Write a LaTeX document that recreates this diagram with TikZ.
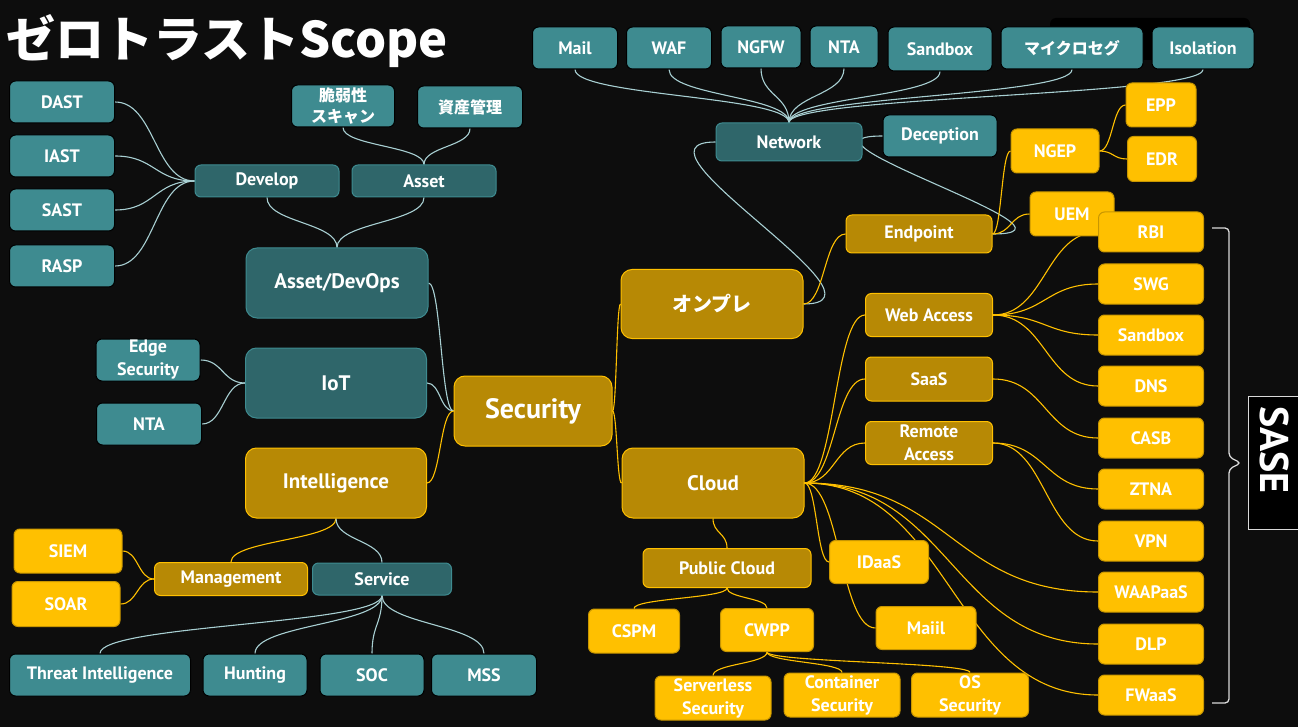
\documentclass[tikz,border=0pt]{standalone}
\usepackage{fontspec}
\setmainfont{PT Sans}
\newfontfamily\jp{Noto Sans CJK JP}
\usetikzlibrary{calc}
\definecolor{bgc}{HTML}{0D0D0D}
\definecolor{tealL}{HTML}{3E8B90}
\definecolor{tealD}{HTML}{2F666A}
\definecolor{goldD}{HTML}{B78905}
\definecolor{gold}{HTML}{FFC000}
\definecolor{goldB}{HTML}{C89600}
\definecolor{tlc}{HTML}{A8CFD2}
\definecolor{brc}{HTML}{D9D9D9}
\pgfdeclarelayer{back}
\pgfdeclarelayer{edges}
\pgfsetlayers{back,edges,main}
\tikzset{
  box/.style={rounded corners=6pt, inner sep=0pt, align=center, text=white,
    font=\bfseries\fontsize{18}{23}\selectfont, line width=1pt},
  tl/.style={box, fill=tealL, draw=black},
  td/.style={box, fill=tealD, draw=tealL},
  gd/.style={box, fill=goldD, draw=gold},
  yl/.style={box, fill=gold, draw=goldB},
  big/.style={rounded corners=11pt, font=\bfseries\fontsize{21}{25}\selectfont},
  jpf/.style={font=\jp\bfseries\fontsize{16}{21}\selectfont},
  sz/.style 2 args={minimum width=#1pt, minimum height=#2pt},
  tline/.style={draw=tlc, line width=1.1pt},
  yline/.style={draw=gold, line width=1.1pt},
  H/.style={to path={let \p1=(\tikztostart), \p2=(\tikztotarget) in
     .. controls ({(\x1+\x2)/2},\y1) and ({(\x1+\x2)/2},\y2) .. (\tikztotarget)}},
  V/.style={to path={let \p1=(\tikztostart), \p2=(\tikztotarget) in
     .. controls (\x1,{(\y1+\y2)/2}) and (\x2,{(\y1+\y2)/2}) .. (\tikztotarget)}},
}
\begin{document}
\begin{tikzpicture}[x=1pt,y=-1pt]
\useasboundingbox (0,0) rectangle (1298,727);
\begin{pgfonlayer}{back}
\fill[bgc] (0,0) rectangle (1298,727);
\end{pgfonlayer}

% title
\node[anchor=west, text=white, inner sep=0pt, font=\jp\bfseries\fontsize{49}{58}\selectfont] (title) at (6,41) {ゼロトラストScope};

% black shape behind top-right
\fill[black, rounded corners=6pt] (1050,18) rectangle (1250,60);

% ---- left: Asset/DevOps
\node[tl, sz={105}{42}] (dast) at (62,102) {DAST};
\node[tl, sz={105}{42}] (iast) at (62,156) {IAST};
\node[tl, sz={105}{42}] (sast) at (62,210) {SAST};
\node[tl, sz={105}{42}] (rasp) at (62,266) {RASP};
\node[tl, jpf, sz={103}{42}] (vuln) at (343,106) {脆弱性\\スキャン};
\node[tl, jpf, sz={105}{42}] (asm) at (470,107) {資産管理};
\node[td, sz={144}{32}] (develop) at (267,181) {Develop};
\node[td, sz={144}{32}] (asset) at (424,181) {Asset};
\node[td, big, sz={182}{70}] (adops) at (337,283) {Asset/DevOps};

% ---- IoT
\node[tl, sz={104}{42}] (edge) at (148,360) {Edge\\Security};
\node[tl, sz={105}{42}] (nta2) at (149,424) {NTA};
\node[td, big, sz={181}{70}] (iot) at (336,383) {IoT};

% ---- Intelligence
\node[gd, big, sz={181}{70}] (intel) at (336,483) {Intelligence};
\node[yl, sz={108}{44}] (siem) at (68,551) {SIEM};
\node[yl, sz={108}{45}] (soar) at (66,604) {SOAR};
\node[gd, sz={153}{33}] (mgmt) at (231,579) {Management};
\node[td, sz={139}{32}] (service) at (382,579) {Service};
\node[tl, sz={181}{42}] (ti) at (100,675) {Threat Intelligence};
\node[tl, sz={104}{42}] (hunt) at (255,675) {Hunting};
\node[tl, sz={104}{42}] (soc) at (372,675) {SOC};
\node[tl, sz={105}{42}] (mss) at (484,675) {MSS};

% ---- Security
\node[gd, rounded corners=11pt, font=\bfseries\fontsize{28}{32}\selectfont, sz={158}{70}] (security) at (533,411) {Security};
\node[gd, big, font=\jp\bfseries\fontsize{20}{24}\selectfont, sz={182}{69}] (onp) at (712,304) {オンプレ};
\node[gd, big, sz={182}{70}] (cloud) at (713,483) {Cloud};

% ---- Network
\node[tl, sz={85}{42}] (mail) at (575,48) {Mail};
\node[tl, sz={85}{42}] (waf) at (669,48) {WAF};
\node[tl, sz={80}{42}] (ngfw) at (761,47) {NGFW};
\node[tl, sz={68}{42}] (nta1) at (844,47) {NTA};
\node[tl, sz={104}{44}] (sbn) at (940,49) {Sandbox};
\node[tl, jpf, sz={142}{42}] (micro) at (1072,48) {マイクロセグ};
\node[tl, sz={102}{42}] (iso) at (1203,48) {Isolation};
\node[td, sz={146}{38}] (network) at (789,142) {Network};
\node[tl, sz={114}{42}] (decep) at (940,136) {Deception};

% ---- Endpoint
\node[gd, sz={146}{38}] (endpoint) at (919,234) {Endpoint};
\node[yl, sz={88}{44}] (ngep) at (1055,151) {NGEP};
\node[yl, sz={70}{44}] (epp) at (1161,105) {EPP};
\node[yl, sz={69}{45}] (edr) at (1162,159) {EDR};
\node[yl, sz={84}{44}] (uem) at (1072,214) {UEM};

% ---- right column
\node[yl, sz={105}{40}] (rbi) at (1151,232) {RBI};
\node[yl, sz={105}{40}] (swg) at (1151,284) {SWG};
\node[yl, sz={105}{40}] (sbs) at (1151,335) {Sandbox};
\node[yl, sz={105}{40}] (dns) at (1151,386) {DNS};
\node[yl, sz={105}{40}] (casb) at (1151,438) {CASB};
\node[yl, sz={105}{40}] (ztna) at (1151,489) {ZTNA};
\node[yl, sz={105}{40}] (vpn) at (1151,541) {VPN};
\node[yl, sz={105}{40}] (waap) at (1151,592) {WAAPaaS};
\node[yl, sz={105}{40}] (dlp) at (1151,644) {DLP};
\node[yl, sz={105}{40}] (fwaas) at (1151,695) {FWaaS};

% ---- cloud children
\node[gd, sz={127}{43}] (webacc) at (929,315) {Web Access};
\node[gd, sz={127}{44}] (saas) at (929,379) {SaaS};
\node[gd, sz={127}{43}] (remote) at (929,443) {Remote\\Access};
\node[gd, sz={168}{39}] (pubcloud) at (727,568) {Public Cloud};
\node[yl, sz={99}{43}] (idaas) at (879,562) {IDaaS};
\node[yl, sz={100}{43}] (maiil) at (926,628) {Maiil};
\node[yl, sz={91}{44}] (cspm) at (634,631) {CSPM};
\node[yl, sz={93}{43}] (cwpp) at (767,630) {CWPP};
\node[yl, sz={116}{44}] (serverless) at (713,698) {Serverless\\Security};
\node[yl, sz={116}{44}] (container) at (842,695) {Container\\Security};
\node[yl, sz={117}{44}] (ossec) at (970,695) {OS\\Security};

% ---- SASE
\node[draw=brc, fill=black, line width=1pt, inner sep=0pt, anchor=north west,
      minimum width=62pt, minimum height=133pt] (sasebox) at (1248,396) {};
\node[rotate=-90, text=white, inner sep=0pt, font=\bfseries\fontsize{40}{40}\selectfont] (sase) at (1274,450) {SASE};
\draw[brc, line width=1.3pt, rounded corners=4pt] (1212,228) -- (1229,228) -- (1229,457) -- (1241,463) -- (1229,469) -- (1229,703) -- (1212,703);

% ---- connectors
\begin{pgfonlayer}{edges}
\foreach \c in {dast,iast,sast,rasp} \draw[tline] (develop.west) to[H] (\c.east);
\foreach \c in {develop,asset} \draw[tline] (adops.north) to[V] (\c.south);
\foreach \c in {vuln,asm} \draw[tline] (asset.north) to[V] (\c.south);
\foreach \c in {adops,iot} \draw[tline] (security.west) to[H] (\c.east);
\draw[yline] (security.west) to[H] (intel.east);
\foreach \c in {edge,nta2} \draw[tline] (iot.west) to[H] (\c.east);
\draw[yline] (intel.south) to[V] (mgmt.north);
\draw[tline] (intel.south) to[V] (service.north);
\foreach \c in {siem,soar} \draw[yline] (mgmt.west) to[H] (\c.east);
\foreach \c in {ti,hunt,soc,mss} \draw[tline] (service.south) to[V] (\c.north);
\foreach \c in {onp,cloud} \draw[yline] (security.east) to[H] (\c.west);
\foreach \c in {mail,waf,ngfw,nta1,sbn,micro,iso} \draw[tline] (network.north) to[V] (\c.south);
\draw[tline] (onp.east) .. controls +(100,0) and +(-100,0) .. (network.west);
\draw[yline] (onp.east) to[H] (endpoint.west);
\draw[tline] (endpoint.east) .. controls +(110,0) and +(-110,0) .. (decep.west);
\foreach \c in {ngep,uem} \draw[yline] (endpoint.east) to[H] (\c.west);
\foreach \c in {epp,edr} \draw[yline] (ngep.east) to[H] (\c.west);
\foreach \c in {rbi,swg,sbs,dns} \draw[yline] (webacc.east) to[H] (\c.west);
\draw[yline] (saas.east) to[H] (casb.west);
\foreach \c in {ztna,vpn} \draw[yline] (remote.east) to[H] (\c.west);
\foreach \c in {webacc,saas,remote,idaas,maiil,waap,dlp,fwaas} \draw[yline] (cloud.east) to[H] (\c.west);
\draw[yline] (cloud.south) to[V] (pubcloud.north);
\foreach \c in {cspm,cwpp} \draw[yline] (pubcloud.south) to[V] (\c.north);
\foreach \c in {serverless,container,ossec} \draw[yline] (cwpp.south) to[V] (\c.north);
\end{pgfonlayer}
\end{tikzpicture}
\end{document}
